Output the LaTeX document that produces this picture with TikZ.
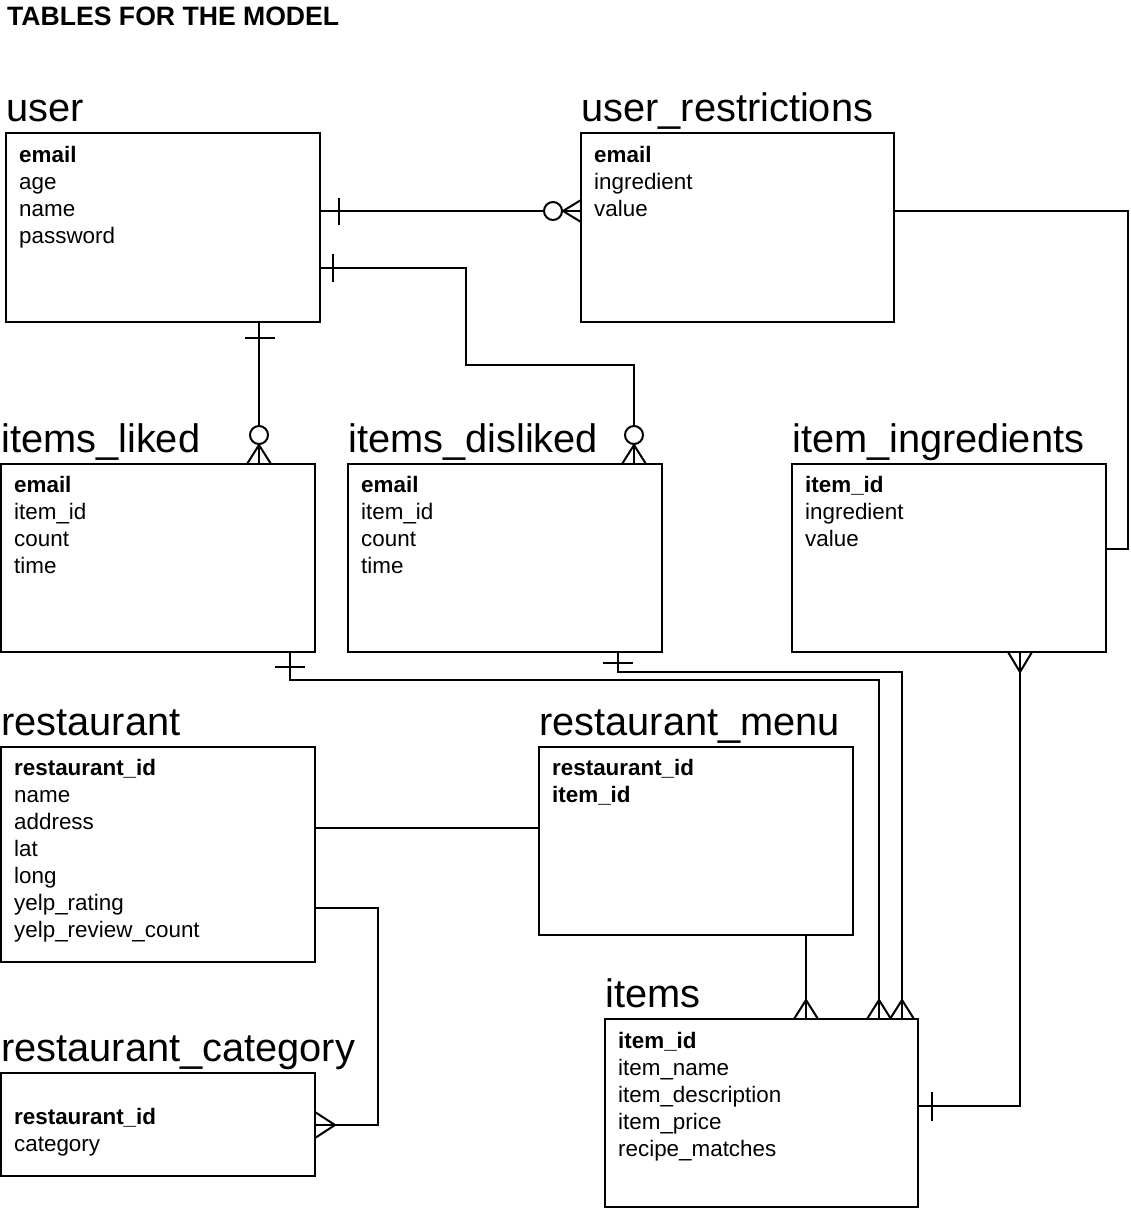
\documentclass[tikz,border=0pt]{standalone}
\usepackage{fontspec}
\setmainfont{Liberation Sans}
\usetikzlibrary{calc}
\tikzset{
  box/.style={draw, line width=2pt, rectangle, inner sep=0pt, outer sep=0pt, anchor=north west},
  ttl/.style={anchor=base west, inner sep=0pt, font=\fontsize{39.8}{42}\selectfont},
  fld/.style={anchor=base west, inner sep=0pt, font=\fontsize{22.4}{27}\selectfont},
  conn/.style={line width=2pt},
  ermark/.style={line width=2pt},
  ocirc/.style={line width=2pt, fill=white},
}
\newcommand\entity[8]{%
  \node[box, minimum width=#4pt, minimum height=#5pt] (#1) at (#2,#3) {};
  \node[ttl] (#1-title) at ($(#1.north west)+(0,-12)$) {#6};
  \foreach \f [count=\i] in {#8} {
    \node[fld] (#1-f\i) at ($(#1.north west)+(13,{#7+27*(\i-1)})$) {\f};
  }%
}
\begin{document}
\begin{tikzpicture}[x=1pt,y=-1pt]
\useasboundingbox (0,0) rectangle (1130,1210);
\node[anchor=base west, inner sep=0pt, font=\fontsize{26.6}{28}\selectfont\bfseries] (heading) at (7,25) {TABLES FOR THE MODEL};

\entity{user}{6}{133}{314}{189}{user}{29}{\textbf{email},age,name,password}
\entity{ur}{581}{133}{313}{189}{user\_restrictions}{29}{\textbf{email},ingredient,value}
\entity{il}{1}{464}{314}{188}{items\_liked}{28}{\textbf{email},item\_id,count,time}
\entity{idis}{348}{464}{314}{188}{items\_disliked}{28}{\textbf{email},item\_id,count,time}
\entity{ii}{792}{464}{314}{188}{item\_ingredients}{28}{\textbf{item\_id},ingredient,value}
\entity{rest}{1}{747}{314}{215}{restaurant}{28}{\textbf{restaurant\_id},name,address,lat,long,yelp\_rating,yelp\_review\_count}
\entity{rmenu}{539}{747}{314}{188}{restaurant\_menu}{28}{\textbf{restaurant\_id},\textbf{item\_id}}
\entity{rcat}{1}{1073}{314}{103}{restaurant\_category}{51}{\textbf{restaurant\_id},category}
\entity{items}{605}{1019}{313}{188}{items}{29}{\textbf{item\_id},item\_name,item\_description,item\_price,recipe\_matches}

% bend points
\coordinate (bA) at (466,365);
\coordinate (bB) at (1128,549);
\coordinate (bC) at (879,680);
\coordinate (bD) at (902,672);
\coordinate (bE) at (1020,1106);
\coordinate (bF) at (378,908);

% user -- user_restrictions
\draw[conn] ($(user.north east)+(0,78)$) -- ($(ur.north west)+(0,78)$);
\draw[ermark] ($(user.north east)+(19,65)$) -- ++(0,27);
\draw[ermark] ($(ur.north west)+(0,67)$) -- ($(ur.north west)+(-18,78)$) -- ($(ur.north west)+(0,89)$);
\draw[ocirc] ($(ur.north west)+(-28,78)$) circle[radius=9pt];

% user -- items_disliked
\draw[conn] ($(user.north east)+(0,135)$) -| (bA) -| ($(idis.north west)+(286,0)$);
\draw[ermark] ($(user.north east)+(13,121)$) -- ++(0,28);
\draw[ermark] ($(idis.north west)+(274,0)$) -- ($(idis.north west)+(286,-19)$) -- ($(idis.north west)+(298,0)$);
\draw[ocirc] ($(idis.north west)+(286,-29)$) circle[radius=9pt];

% user -- items_liked
\draw[conn] ($(user.south west)+(253,0)$) -- ($(il.north west)+(258,0)$);
\draw[ermark] ($(user.south west)+(239,16)$) -- ++(30,0);
\draw[ermark] ($(il.north west)+(246,0)$) -- ($(il.north west)+(258,-19)$) -- ($(il.north west)+(270,0)$);
\draw[ocirc] ($(il.north west)+(258,-29)$) circle[radius=9pt];

% user_restrictions -- item_ingredients
\draw[conn] ($(ur.north east)+(0,78)$) -| (bB) -- ($(ii.north east)+(0,85)$);

% items_liked -- items
\draw[conn] ($(il.south west)+(289,0)$) |- (bC) -- ($(items.north west)+(274,0)$);
\draw[ermark] ($(il.south west)+(274,15)$) -- ++(30,0);
\draw[ermark] ($(items.north west)+(262,0)$) -- ($(items.north west)+(274,-19)$) -- ($(items.north west)+(286,0)$);

% items_disliked -- items
\draw[conn] ($(idis.south west)+(270,0)$) |- (bD) -- ($(items.north west)+(297,0)$);
\draw[ermark] ($(idis.south west)+(255,11)$) -- ++(30,0);
\draw[ermark] ($(items.north west)+(285,0)$) -- ($(items.north west)+(297,-19)$) -- ($(items.north west)+(309,0)$);

% item_ingredients -- items
\draw[conn] ($(ii.south west)+(228,0)$) |- (bE) -- (items.east |- bE);
\draw[ermark] ($(ii.south west)+(216,0)$) -- ($(ii.south west)+(228,20)$) -- ($(ii.south west)+(240,0)$);
\draw[ermark] ($(items.north east)+(14,73)$) -- ++(0,29);

% restaurant -- restaurant_menu
\draw[conn] ($(rest.north east)+(0,81)$) -- ($(rmenu.north west)+(0,81)$);

% restaurant_menu -- items
\draw[conn] ($(rmenu.south west)+(267,0)$) -- ($(items.north west)+(201,0)$);
\draw[ermark] ($(items.north west)+(189,0)$) -- ($(items.north west)+(201,-19)$) -- ($(items.north west)+(213,0)$);

% restaurant -- restaurant_category
\draw[conn] ($(rest.north east)+(0,161)$) -| (bF) |- ($(rcat.north east)+(0,52)$);
\draw[ermark] ($(rcat.north east)+(0,39)$) -- ($(rcat.north east)+(20,52)$) -- ($(rcat.north east)+(0,65)$);
\end{tikzpicture}
\end{document}
